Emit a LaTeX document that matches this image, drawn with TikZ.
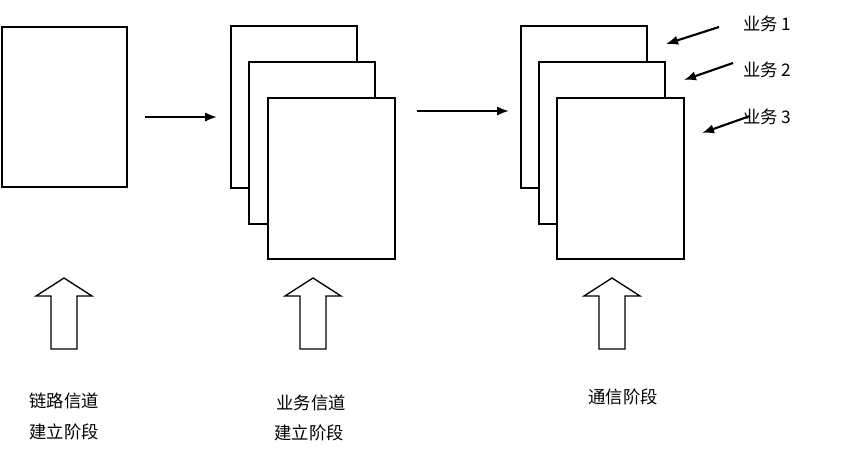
\documentclass[tikz,border=0pt]{standalone}
\usepackage{fontspec}
\newfontfamily\cjk{Noto Sans CJK SC}
\usetikzlibrary{arrows.meta}
\begin{document}
\begin{tikzpicture}[x=0.75pt,y=-0.75pt,
  page/.style={draw=black,line width=1.2pt,fill=white},
  arr/.style={line width=1.6pt,-{Latex[length=9pt,width=7pt]}},
  lbl/.style={font=\cjk\fontsize{13}{16}\selectfont,inner sep=0pt},
  up/.style={draw=black,line width=1pt,fill=white}]
\useasboundingbox (0,0) rectangle (864,458);
\draw[page] (2,27) rectangle (127,187);
\draw[page] (231,26) rectangle (357,188);
\draw[page] (249,62) rectangle (375,224);
\draw[page] (268,98) rectangle (395,259);
\draw[page] (521,26) rectangle (647,188);
\draw[page] (539,62) rectangle (665,224);
\draw[page] (557,98) rectangle (684,259);
\coordinate (a1) at (145,117); \coordinate (a2) at (217,117);
\coordinate (b1) at (417,111); \coordinate (b2) at (509,111);
\draw[arr] (a1) -- (a2);
\draw[arr] (b1) -- (b2);
\coordinate (s1) at (719,27); \coordinate (t1) at (666,44);
\coordinate (s2) at (733,63); \coordinate (t2) at (684,80);
\coordinate (s3) at (750,116); \coordinate (t3) at (702,133);
\draw[arr] (s1) -- (t1);
\draw[arr] (s2) -- (t2);
\draw[arr] (s3) -- (t3);
\node[lbl,anchor=west] (l1) at (743,24) {业务 1};
\node[lbl,anchor=west] (l2) at (743,70) {业务 2};
\node[lbl,anchor=west] (l3) at (743,117) {业务 3};
\foreach \c in {64,313,612}{
  \draw[up] (\c-13,349) -- (\c-13,296) -- (\c-28,296) -- (\c,278) -- (\c+28,296) -- (\c+13,296) -- (\c+13,349) -- cycle;
}
\node[lbl] (t1a) at (64,401) {链路信道};
\node[lbl] (t1b) at (64,432) {建立阶段};
\node[lbl] (t2a) at (311,403) {业务信道};
\node[lbl] (t2b) at (309,433) {建立阶段};
\node[lbl] (t3a) at (623,397) {通信阶段};
\end{tikzpicture}
\end{document}
